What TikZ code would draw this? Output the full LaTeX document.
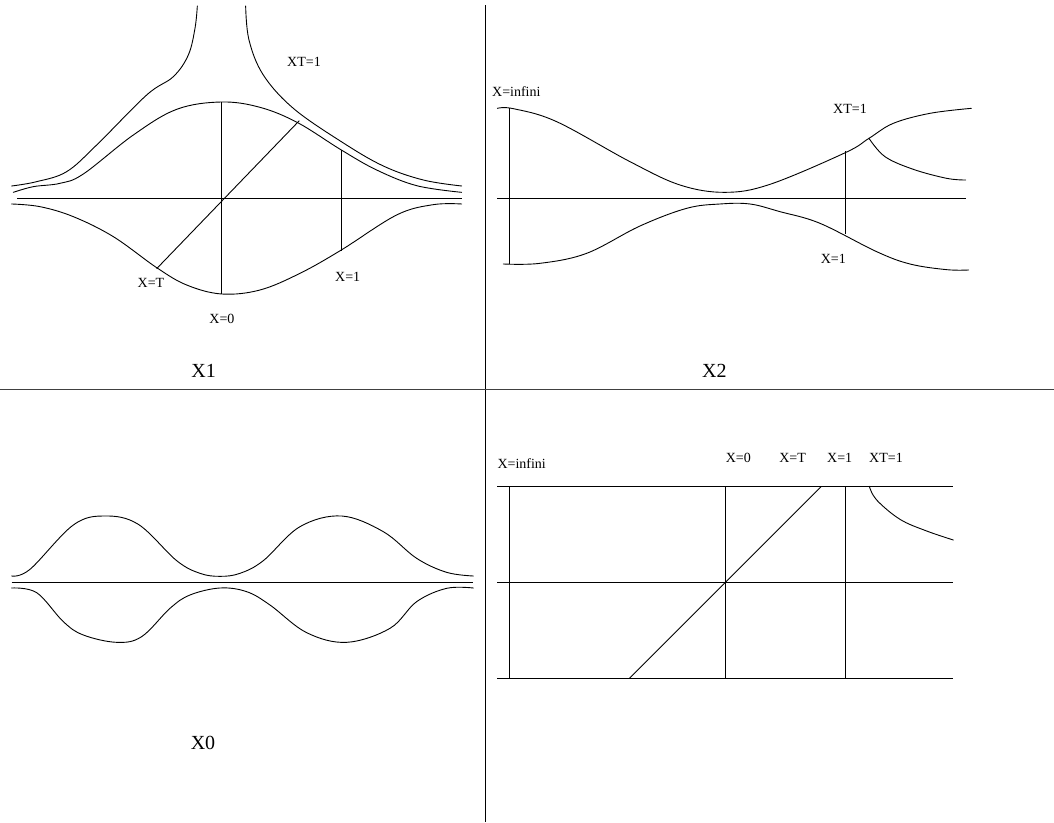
\documentclass[tikz,border=0pt]{standalone}
\usepackage{fontspec}
\setmainfont{Liberation Serif}
\tikzset{
  curveline/.style={line width=0.9bp,black},
  smoothline/.style={curveline,line cap=round,line join=round},
  small/.style={inner sep=0pt,font=\fontsize{14bp}{16bp}\selectfont},
  big/.style={inner sep=0pt,font=\fontsize{20bp}{24bp}\selectfont},
  zoomed/.style={x=0.33333bp,y=-0.33333bp},
}
\newcommand{\cv}[1]{\draw[smoothline] plot[smooth,tension=0.6] coordinates {#1};}
\begin{document}
\begin{tikzpicture}[x=1bp,y=-1bp]
\useasboundingbox (0,0) rectangle (1054,823);
\fill[white] (0,0) rectangle (1054,823);
% separators
\coordinate (vt) at (485.3,5);
\coordinate (vb) at (485.3,822);
\coordinate (hl) at (0,389.5);
\coordinate (hr) at (1054,389.5);
\draw[curveline] (vt) -- (vb);
\draw[curveline,black!75] (hl) -- (hr);

% X1
\begin{scope}[zoomed]
\coordinate (a1l) at (52,594);
\coordinate (a1r) at (1385,594);
\coordinate (a1t) at (664,306);
\coordinate (a1b) at (664,882);
\coordinate (b1t) at (1024,450);
\coordinate (b1b) at (1024,752);
\coordinate (c1t) at (898,362);
\coordinate (c1b) at (470,806);
\draw[curveline] (a1l) -- (a1r);
\draw[curveline] (a1t) -- (a1b);
\draw[curveline] (b1t) -- (b1b);
\draw[curveline] (c1t) -- (c1b);
\cv{(35,558)(110,545)(200,515)(290,435)(440,285)(520,230)(565,165)(585,85)(592,18)}
\cv{(737,18)(747,120)(790,225)(880,325)(1024,425)(1150,498)(1270,540)(1385,558)}
\cv{(40,577)(100,560)(180,550)(250,522)(400,405)(530,328)(664,306)(780,322)(893,368)(1024,450)(1130,510)(1250,557)(1385,577)}
\cv{(35,612)(120,620)(220,650)(340,710)(470,803)(560,855)(665,882)(780,870)(900,820)(1024,750)(1190,645)(1300,614)(1385,612)}
\node[small] (l1a) at (912,185) {XT=1};
\node[small] (l1b) at (453,850) {X=T};
\node[small] (l1c) at (1043,832) {X=1};
\node[small] (l1d) at (666,958) {X=0};
\node[big] (l1e) at (611,1112) {X1};
\end{scope}

% X2
\begin{scope}[shift={(480,70)},zoomed]
\coordinate (a2l) at (52,384);
\coordinate (a2r) at (1457,384);
\coordinate (b2t) at (88,115);
\coordinate (b2b) at (88,582);
\coordinate (c2t) at (1096,243);
\coordinate (c2b) at (1096,492);
\draw[curveline] (a2l) -- (a2r);
\draw[curveline] (b2t) -- (b2b);
\draw[curveline] (c2t) -- (c2b);
\cv{(52,115)(100,116)(230,155)(450,275)(600,345)(735,367)(870,343)(1096,248)(1167,205)(1240,160)(1350,130)(1474,115)}
\cv{(1167,205)(1215,260)(1300,298)(1400,325)(1457,330)}
\cv{(70,582)(180,580)(320,550)(480,468)(620,415)(720,402)(810,402)(900,425)(1020,460)(1190,545)(1290,582)(1400,599)(1466,600)}
\node[small] (l2a) at (109,65) {X=infini};
\node[small] (l2b) at (1110,118) {XT=1};
\node[small] (l2c) at (1060,567) {X=1};
\node[big] (l2d) at (703,903) {X2};
\end{scope}

% X0
\begin{scope}[shift={(0,490)},zoomed]
\coordinate (a3l) at (35,277);
\coordinate (a3r) at (1420,277);
\draw[curveline] (a3l) -- (a3r);
\cv{(35,258)(90,238)(220,105)(315,78)(415,103)(530,212)(600,250)(660,259)(720,250)(790,212)(900,110)(1025,78)(1150,125)(1250,205)(1340,247)(1420,258)}
\cv{(35,294)(110,308)(190,395)(250,435)(350,457)(425,440)(510,355)(570,315)(660,294)(740,305)(810,345)(920,428)(1040,457)(1170,415)(1250,335)(1340,295)(1420,294)}
\end{scope}
\node[big] (l3a) at (203,743) {X0};

% bottom right
\begin{scope}[shift={(480,440)},zoomed]
\coordinate (h1l) at (52,139);
\coordinate (h1r) at (1420,139);
\coordinate (h2l) at (52,427);
\coordinate (h2r) at (1420,427);
\coordinate (h3l) at (52,715);
\coordinate (h3r) at (1420,715);
\coordinate (v1t) at (88,139);
\coordinate (v1b) at (88,715);
\coordinate (v2t) at (737,139);
\coordinate (v2b) at (737,715);
\coordinate (v3t) at (1096,139);
\coordinate (v3b) at (1096,715);
\coordinate (d1) at (1024,139);
\coordinate (d2) at (448,715);
\foreach \p/\q in {h1l/h1r,h2l/h2r,h3l/h3r,v1t/v1b,v2t/v2b,v3t/v3b,d1/d2}
  \draw[curveline] (\p) -- (\q);
\cv{(1168,139)(1190,180)(1260,238)(1340,273)(1420,300)}
\node[small] (l4a) at (125,70) {X=infini};
\node[small] (l4b) at (775,53) {X=0};
\node[small] (l4c) at (938,53) {X=T};
\node[small] (l4d) at (1079,53) {X=1};
\node[small] (l4e) at (1218,53) {XT=1};
\end{scope}
\end{tikzpicture}
\end{document}
